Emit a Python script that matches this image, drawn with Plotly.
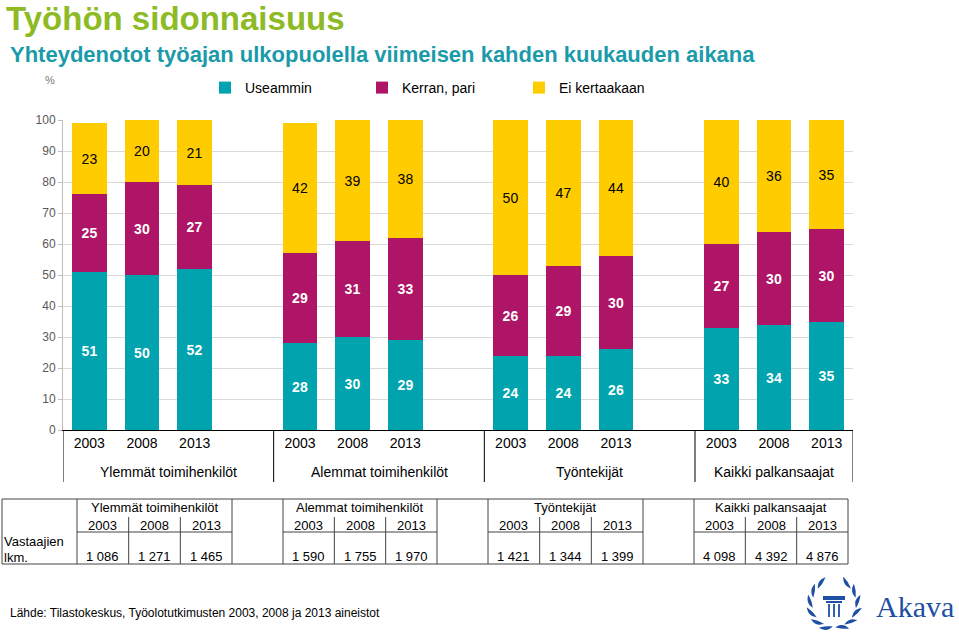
import math
import plotly.graph_objects as go

# ---------------- data ----------------
groups = ["Ylemmät toimihenkilöt", "Alemmat toimihenkilöt", "Työntekijät", "Kaikki palkansaajat"]
years = ["2003", "2008", "2013"]
useammin = [51, 50, 52, 28, 30, 29, 24, 24, 26, 33, 34, 35]
kerran_pari = [25, 30, 27, 29, 31, 33, 26, 29, 30, 27, 30, 30]
ei_kertaakaan = [23, 20, 21, 42, 39, 38, 50, 47, 44, 40, 36, 35]
respondents = ["1 086", "1 271", "1 465", "1 590", "1 755", "1 970",
               "1 421", "1 344", "1 399", "4 098", "4 392", "4 876"]
y_ticks = [0, 10, 20, 30, 40, 50, 60, 70, 80, 90, 100]

# ---------------- style ----------------
FONT = "Arial, Liberation Sans, sans-serif"
C_TEAL = "#00A3AE"
C_MAG = "#AE1566"
C_YEL = "#FFCC00"
W, H = 959, 635
L, R, T, B = 63, 853, 120, 430  # plot area in pixels

def px(xp):
    return (xp - L) / (R - L)

def py(yp):
    return (B - yp) / (B - T)

# x positions: each group 3 slots + 1 empty slot
xpos = [4 * g + i for g in range(len(groups)) for i in range(len(years))]
xtext = [y for g in groups for y in years]

fig = go.Figure()
series = [("Useammin", useammin, C_TEAL, "white", "<b>{}</b>"),
          ("Kerran, pari", kerran_pari, C_MAG, "white", "<b>{}</b>"),
          ("Ei kertaakaan", ei_kertaakaan, C_YEL, "black", "{}")]
for name, vals, col, tcol, fmt in series:
    fig.add_trace(go.Bar(
        name=name, x=xpos, y=vals, marker=dict(color=col, line=dict(width=0)),
        width=0.66, text=[fmt.format(v) for v in vals], textposition="inside",
        insidetextanchor="middle", textangle=0,
        textfont=dict(family=FONT, size=14, color=tcol),
        hoverinfo="skip"))

shapes = []
annotations = []

# group dividers under x axis
for xb in [-0.5, 3.5, 7.5, 11.5, 14.5]:
    shapes.append(dict(type="line", xref="x", yref="paper", x0=xb, x1=xb,
                       y0=0, y1=py(482), line=dict(color="black", width=1)))
# group labels
for g, name in enumerate(groups):
    cx = 4 * g + 1.5 if g < 3 else 4 * g + 1
    annotations.append(dict(text=name, xref="x", yref="paper", x=cx, y=py(472),
                            showarrow=False, font=dict(family=FONT, size=14, color="black"),
                            xanchor="center", yanchor="middle"))

# ---------------- table ----------------
tl = dict(color="#444444", width=1)
tab_top, tab_mid, tab_bot = 499, 532, 564
shapes.append(dict(type="line", xref="paper", yref="paper", x0=px(2), x1=px(848),
                   y0=py(tab_top), y1=py(tab_top), line=tl))
shapes.append(dict(type="line", xref="paper", yref="paper", x0=px(2), x1=px(848),
                   y0=py(tab_bot), y1=py(tab_bot), line=tl))
for xv in [2, 77, 232, 283, 437, 488, 643, 694, 848]:
    shapes.append(dict(type="line", xref="paper", yref="paper", x0=px(xv), x1=px(xv),
                       y0=py(tab_top), y1=py(tab_bot), line=tl))
group_cells = [(77, 232), (283, 437), (488, 643), (694, 848)]
for gi, (a, b) in enumerate(group_cells):
    shapes.append(dict(type="line", xref="paper", yref="paper", x0=px(a), x1=px(b),
                       y0=py(tab_mid), y1=py(tab_mid), line=tl))
    wcell = (b - a) / 3
    for k in (1, 2):
        xv = a + k * wcell
        shapes.append(dict(type="line", xref="paper", yref="paper", x0=px(xv), x1=px(xv),
                           y0=py(517), y1=py(tab_bot), line=tl))
    annotations.append(dict(text=groups[gi], xref="paper", yref="paper", x=px((a + b) / 2),
                            y=py(508), showarrow=False, xanchor="center", yanchor="middle",
                            font=dict(family=FONT, size=13, color="black")))
    for k in range(3):
        cx = a + (k + 0.5) * wcell
        annotations.append(dict(text=years[k], xref="paper", yref="paper", x=px(cx),
                                y=py(525), showarrow=False, xanchor="center", yanchor="middle",
                                font=dict(family=FONT, size=13, color="black")))
        annotations.append(dict(text=respondents[gi * 3 + k], xref="paper", yref="paper",
                                x=px(cx), y=py(556), showarrow=False, xanchor="center",
                                yanchor="middle", font=dict(family=FONT, size=13, color="black")))
annotations.append(dict(text="Vastaajien", xref="paper", yref="paper", x=px(2), y=py(541),
                        showarrow=False, xanchor="left", yanchor="middle",
                        font=dict(family=FONT, size=13, color="black")))
annotations.append(dict(text="lkm.", xref="paper", yref="paper", x=px(2), y=py(557),
                        showarrow=False, xanchor="left", yanchor="middle",
                        font=dict(family=FONT, size=13, color="black")))

# ---------------- titles / texts ----------------
annotations.append(dict(text="<b>Työhön sidonnaisuus</b>", xref="paper", yref="paper",
                        x=px(4), y=py(19), showarrow=False, xanchor="left", yanchor="middle",
                        font=dict(family=FONT, size=33, color="#8DBB25")))
annotations.append(dict(text="<b>Yhteydenotot työajan ulkopuolella viimeisen kahden kuukauden aikana</b>",
                        xref="paper", yref="paper", x=px(8), y=py(55), showarrow=False,
                        xanchor="left", yanchor="middle",
                        font=dict(family=FONT, size=22, color="#1B9AAA")))
annotations.append(dict(text="%", xref="paper", yref="paper", x=px(50), y=py(80),
                        showarrow=False, xanchor="center", yanchor="middle",
                        font=dict(family=FONT, size=11, color="#777777")))
annotations.append(dict(text="Lähde: Tilastokeskus, Työolotutkimusten 2003, 2008 ja 2013 aineistot",
                        xref="paper", yref="paper", x=px(8), y=py(613), showarrow=False,
                        xanchor="left", yanchor="middle",
                        font=dict(family=FONT, size=12, color="black")))

# ---------------- logo ----------------
LOGO = "#1F4FA3"
annotations.append(dict(text="Akava", xref="paper", yref="paper", x=px(956), y=py(606),
                        showarrow=False, xanchor="right", yanchor="middle",
                        font=dict(family="Liberation Serif, DejaVu Serif, serif", size=30, color=LOGO)))
cxl, cyl, rx, ry = 834, 604, 24, 25
for side in (-1, 1):
    for ang in [32, 58, 84, 110, 136, 160]:
        a = math.radians(ang)
        lx = cxl + side * rx * math.sin(a)
        ly = cyl - ry * math.cos(a)
        tang = a + math.radians(25)
        tx, ty = side * math.cos(tang), math.sin(tang)
        l1, w1 = 10, 3.2
        p0 = (lx - tx * l1 / 2, ly - ty * l1 / 2)
        p1 = (lx + tx * l1 / 2, ly + ty * l1 / 2)
        nx, ny = -ty, tx
        c1 = (lx + nx * w1, ly + ny * w1)
        c2 = (lx - nx * w1 * 0.3, ly - ny * w1 * 0.3)
        path = "M{},{} Q{},{} {},{} Q{},{} {},{} Z".format(
            px(p0[0]), py(p0[1]), px(c1[0]), py(c1[1]), px(p1[0]), py(p1[1]),
            px(c2[0]), py(c2[1]), px(p0[0]), py(p0[1]))
        shapes.append(dict(type="path", xref="paper", yref="paper", path=path,
                           fillcolor=LOGO, line=dict(color=LOGO, width=1.5)))
# pillar
shapes.append(dict(type="rect", xref="paper", yref="paper", x0=px(823), x1=px(845),
                   y0=py(596), y1=py(600), fillcolor=LOGO, line=dict(width=0)))
shapes.append(dict(type="rect", xref="paper", yref="paper", x0=px(826), x1=px(842),
                   y0=py(601), y1=py(603), fillcolor=LOGO, line=dict(width=0)))
for xv in [829, 834, 839]:
    shapes.append(dict(type="line", xref="paper", yref="paper", x0=px(xv), x1=px(xv),
                       y0=py(604), y1=py(617), line=dict(color=LOGO, width=1.8)))

fig.update_layout(
    width=W, height=H, barmode="stack", bargap=0,
    margin=dict(l=L, r=W - R, t=T, b=H - B, pad=0),
    paper_bgcolor="white", plot_bgcolor="white",
    font=dict(family=FONT, size=13, color="black"),
    shapes=shapes, annotations=annotations,
    legend=dict(orientation="h", x=px(205), y=py(88), xanchor="left", yanchor="middle",
                traceorder="normal", entrywidth=112, entrywidthmode="pixels",
                itemwidth=30, font=dict(family=FONT, size=14, color="black"),
                bgcolor="rgba(0,0,0,0)"),
    xaxis=dict(range=[-0.5, 14.5], tickmode="array", tickvals=xpos, ticktext=xtext,
               showgrid=False, zeroline=False, showline=True, linecolor="black",
               linewidth=1, ticks="", tickfont=dict(family=FONT, size=14, color="black")),
    yaxis=dict(range=[0, 100], tickmode="array", tickvals=y_ticks,
               showgrid=True, gridcolor="#D9D9D9", gridwidth=1, zeroline=False,
               showline=True, linecolor="#BFBFBF", ticks="outside", ticklen=4,
               tickcolor="#BFBFBF", tickfont=dict(family=FONT, size=12, color="#595959")),
)

fig.write_html("out.html", config={"displayModeBar": False},
               post_script="document.body.style.margin='0';")
